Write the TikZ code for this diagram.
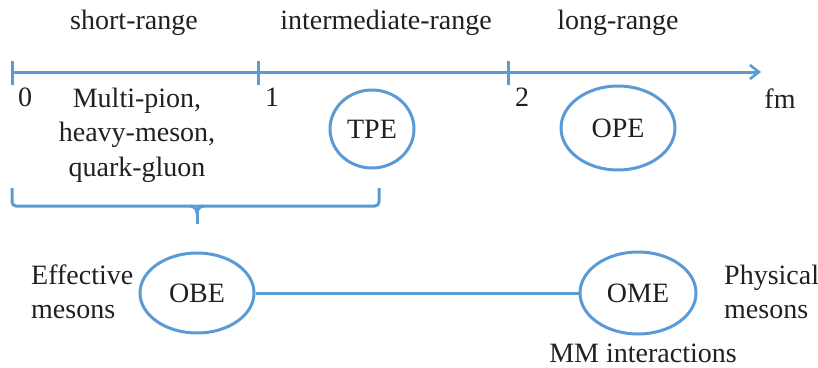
\documentclass[tikz,border=0pt]{standalone}
\usepackage{fontspec}
\setmainfont{Liberation Serif}
\usetikzlibrary{shapes.geometric,arrows.meta}
\definecolor{lineblue}{HTML}{5B9BD5}
\definecolor{ink}{HTML}{231F20}
\tikzset{
  every node/.style={text=ink, font=\fontsize{28}{34}\selectfont},
  bluestroke/.style={draw=lineblue, line width=3pt},
  oval/.style={bluestroke, ellipse, inner sep=0pt},
  lbl/.style={align=center, inner sep=0pt},
  lbll/.style={align=left, anchor=west, inner sep=0pt},
}
\begin{document}
\begin{tikzpicture}[x=1pt, y=-1pt]
  \useasboundingbox (0,0) rectangle (818,367);

  % range headings
  \node[lbl] (short) at (134,23) {short-range};
  \node[lbl] (inter) at (386,23) {intermediate-range};
  \node[lbl] (long)  at (618,23) {long-range};

  % distance axis with ticks
  \coordinate (a0) at (12,72);
  \coordinate (a1) at (258,72);
  \coordinate (a2) at (508,72);
  \coordinate (aend) at (761,72);
  \draw[bluestroke, -{Straight Barb[length=9pt, width=14pt, line width=2.6pt]}] (a0) -- (aend);
  \foreach \t in {a0,a1,a2}
    \draw[bluestroke] ([yshift=11pt]\t) -- ([yshift=-13pt]\t);

  % axis numbers and unit
  \node[lbl] (n0) at (25,97) {0};
  \node[lbl] (n1) at (272,97) {1};
  \node[lbl] (n2) at (522,97) {2};
  \node[lbl] (fm) at (780,99) {fm};

  % short-range contributions
  \node[lbl, font=\fontsize{28}{34.5}\selectfont] (multi) at (137,135) {Multi-pion,\\heavy-meson,\\quark-gluon};

  % exchange processes
  \node[oval, minimum width=84pt, minimum height=78pt] (tpe) at (372,129) {TPE};
  \node[oval, minimum width=114pt, minimum height=84pt] (ope) at (618,128) {OPE};

  % brace spanning short and intermediate ranges
  \coordinate (bl) at (12,188);
  \coordinate (br) at (379,188);
  \coordinate (bm) at (197,206);
  \draw[bluestroke, rounded corners=4pt] (bl) |- (bm) -| (br);
  \draw[bluestroke] ([xshift=-7pt]bm) to[out=0, in=90] ([yshift=-7pt]bm)
                    to[out=90, in=180] ([xshift=7pt]bm);
  \draw[bluestroke] ([yshift=-6pt]bm) -- ++(0,12);

  % meson exchange models
  \node[oval, minimum width=114pt, minimum height=80pt] (obe) at (197,293) {OBE};
  \node[oval, minimum width=116pt, minimum height=82pt] (ome) at (638,293) {OME};
  \draw[bluestroke] (obe) -- (ome);

  \node[lbll] (eff)  at (31,292) {Effective\\mesons};
  \node[lbll] (phys) at (724,292) {Physical\\mesons};
  \node[lbl] (mm)   at (643,353) {MM interactions};
\end{tikzpicture}
\end{document}
